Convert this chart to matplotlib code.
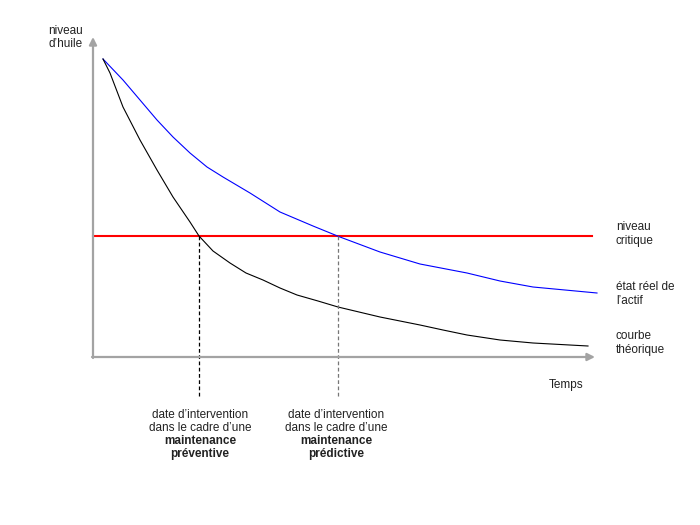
import matplotlib
matplotlib.use('Agg')
import matplotlib.pyplot as plt

plt.rcParams['font.family'] = ['Liberation Sans', 'DejaVu Sans']

t_reel = [10, 30, 47, 64, 80, 97, 114, 130, 157, 187, 220, 247, 287, 327, 374, 407, 440, 504]
niv_reel = [298, 277, 257, 237, 220, 204, 190, 180, 164, 145, 131, 120, 105, 93, 84, 76, 70, 64]

t_theo = [10, 17, 30, 47, 64, 80, 97, 106, 120, 137, 153, 170, 187, 204, 225, 245, 266, 287,
          307, 327, 350, 374, 407, 440, 495]
niv_theo = [298, 284, 250, 217, 187, 160, 135, 121, 106, 94, 84, 77, 69, 62, 56, 50, 45, 40,
            36, 32, 27, 22, 17, 14, 11]

niveau_critique = 121
t_fin = 499
t_preventive = 106
t_predictive = 245

labels_droite = [('niveau', 'critique'), ('état réel de', 'l\u2019actif'), ('courbe', 'théorique')]
ligne1 = 'date d\u2019intervention'
ligne2 = 'dans le cadre d\u2019une'
ligne3 = 'maintenance'
types = ['préventive', 'prédictive']

fig = plt.figure(figsize=(7, 5.25), dpi=100)
ax = fig.add_axes([0, 0, 1, 1])
ax.set_xlim(-93, 607)
ax.set_ylim(-168, 357)
ax.axis('off')

gris = '#a3a3a3'
# axes avec fleches
ax.annotate('', xy=(0, 320), xytext=(0, -1),
            arrowprops=dict(arrowstyle='-|>', color=gris, lw=1.6, mutation_scale=11, shrinkA=0, shrinkB=0))
ax.annotate('', xy=(502, 0), xytext=(-1, 0),
            arrowprops=dict(arrowstyle='-|>', color=gris, lw=1.6, mutation_scale=11, shrinkA=0, shrinkB=0))

ax.plot([0, t_fin], [niveau_critique, niveau_critique], color='#ff0000', lw=1.5)
ax.plot(t_reel, niv_reel, color='#0000ff', lw=0.8)
ax.plot(t_theo, niv_theo, color='black', lw=0.8)

ax.plot([t_preventive, t_preventive], [niveau_critique, -41], color='black', lw=0.9, ls=(0, (3, 2)))
ax.plot([t_predictive, t_predictive], [niveau_critique, -41], color='#777777', lw=0.9, ls=(0, (3, 2)))

fs = 8.5
couleur = '#222222'
ax.text(-45, 326, 'niveau', fontsize=fs, va='center', ha='left', color=couleur)
ax.text(-45, 313, 'd\u2019huile', fontsize=fs, va='center', ha='left', color=couleur)
ax.text(490, -28, 'Temps', fontsize=fs, va='center', ha='right', color=couleur)

for (l1, l2), y in zip(labels_droite, [130, 70, 21]):
    ax.text(523, y, l1, fontsize=fs, va='center', ha='left', color=couleur)
    ax.text(523, y - 14, l2, fontsize=fs, va='center', ha='left', color=couleur)

for t, mot in zip([107, 243], types):
    ax.text(t, -58, ligne1, fontsize=fs, va='center', ha='center', color=couleur)
    ax.text(t, -71, ligne2, fontsize=fs, va='center', ha='center', color=couleur)
    ax.text(t, -84, ligne3, fontsize=fs, va='center', ha='center', fontweight='bold', color=couleur)
    ax.text(t, -97, mot, fontsize=fs, va='center', ha='center', fontweight='bold', color=couleur)

fig.savefig('out.png', dpi=100)
